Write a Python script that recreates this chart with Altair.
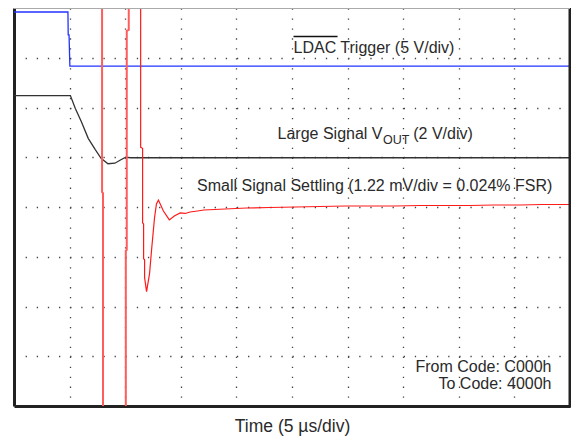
import altair as alt
import pandas as pd

# ---- data, in scope divisions (x: 0..10 div, y: 0..8 div) ----
ldac_t = [0.0, 0.97, 0.975, 0.99, 1.005, 10.0]
ldac_v = [7.92, 7.92, 7.46, 7.46, 6.83, 6.83]

vout_t = [0.0, 1.014, 1.103, 1.21, 1.335, 1.459, 1.566, 1.69, 1.815, 1.922, 2.011, 2.1, 10.0]
vout_v = [6.24, 6.24, 5.98, 5.72, 5.38, 5.16, 4.98, 4.87, 4.88, 4.95, 5.0, 4.99, 4.99]

spike_t = [1.584, 1.584, 1.601, 1.601, 2.011, 2.011, 2.028, 2.028, 2.064, 2.064]
spike_v = [8.6, 4.30, 4.28, -0.6, -0.6, 3.12, 3.14, 7.54, 7.56, 8.6]

settle_t = [2.278, 2.278, 2.313, 2.313, 2.331, 2.331, 2.349, 2.349, 2.384, 2.438, 2.473, 2.527,
            2.562, 2.598, 2.687, 2.794, 2.883, 2.989, 3.08, 3.167, 3.3, 3.416, 3.8, 4.181,
            4.6, 5.071, 5.5, 5.961, 6.4, 6.851, 7.3, 7.74, 8.2, 8.63, 9.1, 9.5, 10.0]
settle_v = [8.6, 5.2, 5.18, 3.68, 3.66, 2.96, 2.94, 2.58, 2.3, 2.66, 3.12, 3.78,
            4.06, 4.14, 3.92, 3.74, 3.82, 3.88, 3.87, 3.9, 3.92, 3.94, 3.96, 3.98,
            3.99, 4.0, 4.01, 4.02, 4.02, 4.02, 4.03, 4.03, 4.03, 4.04, 4.04, 4.05, 4.05]

grid_x = [1, 2, 3, 4, 5, 6, 7, 8, 9]
grid_y = [1, 2, 3, 4, 5, 6, 7]

# annotations
left_text = ["LDAC Trigger (5 V/div)", "(2 V/div)", "Small Signal Settling (1.22 mV/div = 0.024% FSR)"]
left_t = [5.027, 7.18, 3.292]
left_v = [7.086, 5.366, 4.32]
right_text = ["Large Signal V", "From Code: C000h", "To Code: 4000h"]
right_t = [6.628, 9.667, 9.667]
right_v = [5.366, 0.674, 0.334]
sub_text = ["OUT"]
sub_t = [6.637]
sub_v = [5.274]
overline_t = [5.027]
overline_t2 = [5.819]
overline_v = [7.426]

W, H = 556, 398
FONT = "Liberation Sans"
TXT = "#2a2a2a"


def trace(t, v):
    return pd.DataFrame({"t": t, "v": v, "i": list(range(len(t)))})


xs = alt.Scale(domain=[0, 10], nice=False, zero=False)
ys = alt.Scale(domain=[0, 8], nice=False, zero=False)
X = alt.X("t:Q", scale=xs,
          axis=alt.Axis(values=grid_x, labels=False, ticks=False, title="Time (5 µs/div)",
                        titleFont=FONT, titleFontSize=17.5, titleFontWeight="normal",
                        titleColor=TXT, titlePadding=11,
                        domainColor="#222", domainWidth=3,
                        grid=True, gridColor="#444", gridWidth=1.3, gridDash=[1.3, 8.65]))
Y = alt.Y("v:Q", scale=ys,
          axis=alt.Axis(values=grid_y, labels=False, ticks=False, title=None,
                        domainColor="#222", domainWidth=3,
                        grid=True, gridColor="#444", gridWidth=1.3, gridDash=[1.3, 9.82]))


def line(df, color, width):
    return alt.Chart(df).mark_line(color=color, strokeWidth=width, clip=True).encode(
        x=alt.X("t:Q", scale=xs), y=alt.Y("v:Q", scale=ys), order="i:Q")


base = alt.Chart(trace(ldac_t, ldac_v)).mark_line(color="#2233ff", strokeWidth=1.3, clip=True).encode(
    x=X, y=Y, order="i:Q")

vout = line(trace(vout_t, vout_v), "#333333", 1.3)
spikes = line(trace(spike_t, spike_v), "#ff5c5c", 2)
settle = line(trace(settle_t, settle_v), "#ff1a1a", 1.2)

tl = alt.Chart(pd.DataFrame({"t": left_t, "v": left_v, "s": left_text})).mark_text(
    align="left", baseline="alphabetic", font=FONT, fontSize=16, color=TXT).encode(
    x=alt.X("t:Q", scale=xs), y=alt.Y("v:Q", scale=ys), text="s:N")
tr = alt.Chart(pd.DataFrame({"t": right_t, "v": right_v, "s": right_text})).mark_text(
    align="right", baseline="alphabetic", font=FONT, fontSize=16, color=TXT).encode(
    x=alt.X("t:Q", scale=xs), y=alt.Y("v:Q", scale=ys), text="s:N")
ts = alt.Chart(pd.DataFrame({"t": sub_t, "v": sub_v, "s": sub_text})).mark_text(
    align="left", baseline="alphabetic", font=FONT, fontSize=12.5, color=TXT).encode(
    x=alt.X("t:Q", scale=xs), y=alt.Y("v:Q", scale=ys), text="s:N")
ov = alt.Chart(pd.DataFrame({"t": overline_t, "t2": overline_t2, "v": overline_v})).mark_rule(
    color="#111", strokeWidth=1.4).encode(
    x=alt.X("t:Q", scale=xs), x2="t2:Q", y=alt.Y("v:Q", scale=ys))

right_frame = alt.Chart().mark_rule(color="#222", strokeWidth=3).encode(
    x=alt.value(W), y=alt.value(0), y2=alt.value(H + 1.5))
top_frame = alt.Chart().mark_rule(color="#aaaaaa", strokeWidth=1).encode(
    x=alt.value(0), x2=alt.value(W), y=alt.value(0.5))

chart = alt.layer(base, vout, spikes, settle, tl, tr, ts, ov, right_frame, top_frame).properties(
    width=W, height=H, padding={"left": 6, "top": 0, "right": 1, "bottom": 33},
    autosize=alt.AutoSizeParams(type="none"),
    background="white"
).configure_view(stroke=None)

chart.save("out.html", embed_options={"renderer": "svg", "actions": False})
